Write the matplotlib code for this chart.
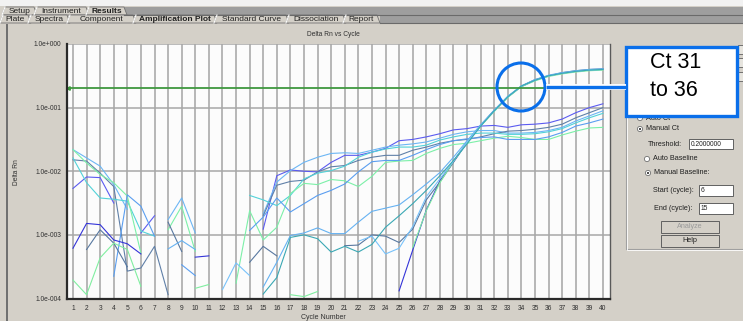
import numpy as np
import matplotlib.pyplot as plt
from matplotlib.patches import Rectangle, Circle, Polygon
from matplotlib.ticker import NullLocator

plt.rcParams['font.family'] = ['Liberation Sans', 'DejaVu Sans']

W, H = 743, 321
nan = np.nan

cycles = np.arange(1, 41)
y_ticks = [1e-4, 1e-3, 1e-2, 1e-1, 1e0]
y_tick_labels = ['1.0e-004', '1.0e-003', '1.0e-002', '1.0e-001', '1.0e+000']
threshold = 0.2

# log10(Delta Rn) per cycle 1..40, nan where the value is not plotted
log_violet = [-2.27, -2.09, -2.10, -2.50, nan, -2.97, -2.70, nan, nan, nan,
              nan, nan, nan, nan, -2.91, -2.07, -1.98, -2.00, -2.01, -1.86,
              -1.75, -1.75, -1.70, -1.64, -1.52, -1.50, -1.46, -1.41, -1.35, -1.33,
              -1.29, -1.28, -1.31, -1.27, -1.26, -1.24, -1.18, -1.08, -1.00, -0.94]
log_sky = [-1.66, -1.79, -1.92, -2.21, -2.60, nan, nan, -2.76, -2.42, -2.97,
           nan, nan, nan, nan, -2.67, -2.17, -1.99, -1.86, -1.78, -1.72,
           -1.71, -1.72, -1.67, -1.62, -1.59, -1.57, -1.54, -1.48, -1.42, -1.38,
           -1.36, -1.36, -1.40, -1.40, -1.39, -1.36, -1.31, -1.21, -1.13, -1.05]
log_steel = [-1.82, -1.84, -2.03, -2.24, -3.57, -3.52, -3.18, -3.94, nan, nan,
             nan, nan, nan, nan, -2.70, -2.22, -2.16, -2.14, -2.01, -1.93,
             -1.91, -1.83, -1.78, -1.75, -1.75, -1.67, -1.62, -1.56, -1.52, -1.50,
             -1.46, -1.41, -1.37, -1.36, -1.34, -1.31, -1.26, -1.16, -1.08, -1.00]
log_cyan = [-1.79, -2.18, -2.42, -2.44, -2.47, -2.94, -3.02, nan, nan, nan,
            nan, nan, nan, -2.38, -2.45, -2.54, -2.38, -2.12, -2.03, -1.99,
            -1.92, -1.78, -1.70, -1.65, -1.62, -1.62, -1.59, -1.51, -1.46, -1.42,
            -1.40, -1.40, -1.42, -1.42, -1.41, -1.38, -1.33, -1.24, -1.16, -1.09]
log_green = [-1.66, -1.87, -2.05, -2.18, -2.39, -3.29, nan, -2.92, -2.55, -3.26,
             nan, nan, -3.76, -2.62, -3.08, -2.88, -2.35, -2.19, -2.21, -2.13,
             -2.15, -2.24, -2.08, -1.86, -1.84, -1.83, -1.72, -1.64, -1.58, -1.56,
             -1.52, -1.48, -1.45, -1.47, -1.50, -1.50, -1.43, -1.37, -1.32, -1.31]
log_blue = [nan, nan, nan, -3.65, -2.37, -2.55, -3.02, nan, -3.47, -3.64,
            nan, nan, nan, -2.93, -2.72, -2.42, -2.64, -2.51, -2.38, -2.30,
            -2.20, -2.01, -1.85, -1.83, -1.83, -1.75, -1.66, -1.58, -1.52, -1.49,
            -1.47, -1.46, -1.50, -1.50, -1.50, -1.46, -1.39, -1.29, -1.24, -1.18]
log_darkblue = [-3.21, -2.82, -2.84, -3.08, -3.14, -3.30, nan, nan, nan, -3.35,
                -3.33, nan, nan, nan, nan, nan, nan, nan, nan, nan,
                nan, nan, nan, nan, -3.88, -3.24, -2.61, -2.15, -1.85, -1.54,
                -1.28, -1.05, -0.83, -0.67, -0.57, -0.50, -0.46, -0.43, -0.41, -0.40]
log_steel_low = [nan, -3.23, -2.92, -3.13, -3.50, nan, nan, -2.80, -3.26, nan,
                 nan, nan, nan, -3.43, -3.18, -3.33, nan, nan, nan, nan,
                 -3.17, -3.16, -3.00, -3.02, -3.12, -2.91, -2.45, -2.17, -1.86, -1.55,
                 -1.28, -1.04, -0.83, -0.66, -0.56, -0.50, -0.45, -0.42, -0.40, -0.39]
log_green_low = [-3.71, -3.94, -3.36, -3.13, -3.23, -3.81, nan, nan, nan, -3.84,
                 -3.78, nan, nan, nan, nan, nan, -3.94, -3.97, -3.89, nan,
                 nan, nan, nan, nan, nan, -3.20, -2.62, -2.18, -1.84, -1.55,
                 -1.29, -1.06, -0.84, -0.67, -0.58, -0.51, -0.47, -0.44, -0.42, -0.41]
log_sky_low = [nan, nan, nan, nan, nan, nan, nan, -3.22, -3.09, -3.23,
               nan, nan, nan, nan, -3.82, -3.43, -3.01, -2.97, -2.89, -2.98,
               -2.98, -2.80, -2.63, -2.58, -2.53, -2.37, -2.20, -2.02, -1.78, -1.52,
               -1.27, -1.04, -0.82, -0.66, -0.56, -0.49, -0.45, -0.42, -0.40, -0.39]
log_lightsky = [nan, nan, nan, nan, nan, nan, nan, nan, nan, nan,
                nan, -3.86, -3.44, -3.64, nan, nan, nan, nan, nan, nan,
                nan, -3.10, -3.02, -3.30, -3.21, -2.87, -2.40, -2.12, -1.84, -1.54,
                -1.28, -1.05, -0.83, -0.66, -0.57, -0.50, -0.46, -0.43, -0.41, -0.40]
log_cyan_low = [nan, nan, nan, nan, nan, nan, nan, nan, nan, nan,
                nan, nan, nan, nan, -3.93, -3.67, -3.04, -3.00, -3.06, -3.27,
                -3.18, -3.27, -3.15, -2.88, -2.70, -2.51, -2.30, -2.07, -1.83, -1.57,
                -1.29, -1.05, -0.83, -0.66, -0.57, -0.50, -0.46, -0.43, -0.41, -0.40]

series = [
    (log_violet, '#5b5bf0'), (log_sky, '#6cb6f4'), (log_steel, '#6080a8'),
    (log_cyan, '#52d2d8'), (log_green, '#7cf0a8'), (log_blue, '#5a9ef0'),
    (log_darkblue, '#3434d8'), (log_steel_low, '#5878a0'), (log_green_low, '#80eea0'),
    (log_sky_low, '#66b2f2'), (log_lightsky, '#78c2fa'), (log_cyan_low, '#3aa8b4'),
]

BG = '#d4d0c8'
fig = plt.figure(figsize=(W / 100, H / 100), dpi=100, facecolor=BG)

# ---- window chrome (pixel coordinates) ----
ui = fig.add_axes([0, 0, 1, 1])
ui.set_zorder(-1)
ui.set_xlim(0, W)
ui.set_ylim(H, 0)
ui.axis('off')

ui.add_patch(Rectangle((0, 0), W, 6, fc='#f2f2f2', ec='none'))
ui.add_patch(Rectangle((124, 7), W - 124, 8, fc='#9e9e9e', ec='none'))
ui.add_patch(Rectangle((380, 15), W - 380, 8, fc='#9e9e9e', ec='none'))
ui.plot([124, W], [15, 15], color='#6a6a6a', lw=0.8)
ui.plot([380, W], [23, 23], color='#6a6a6a', lw=0.8)


def tab(x0, x1, y0, y1, label, bold=False):
    ui.add_patch(Polygon([(x0, y1), (x0 + 3, y0), (x1, y0), (x1 + 3, y1)],
                         closed=True, fc=BG, ec='#707070', lw=0.6))
    ui.plot([x0, x0 + 3], [y1, y0], color='white', lw=0.8)
    ui.text((x0 + x1) / 2 + 1.5, (y0 + y1) / 2 + 0.3, label, fontsize=6,
            fontweight='bold' if bold else 'normal', ha='center', va='center',
            color='#202020')


tab(2, 34, 7, 15, 'Setup')
tab(34, 86, 7, 15, 'Instrument')
tab(86, 124, 7, 15, 'Results', True)
tab(0, 28, 15, 23, 'Plate')
tab(28, 67, 15, 23, 'Spectra')
tab(67, 133, 15, 23, 'Component')
tab(133, 214, 15, 23, 'Amplification Plot', True)
tab(214, 286, 15, 23, 'Standard Curve')
tab(286, 343, 15, 23, 'Dissociation')
tab(343, 377, 15, 23, 'Report')

ui.plot([7, 7], [25, H], color='#6e6e6e', lw=1.4)
ui.text(333, 35, 'Delta Rn vs Cycle', fontsize=4.8, ha='center', va='center',
        color='#303030')
ui.text(16, 172, 'Delta Rn', fontsize=4.8, rotation=90, ha='center',
        va='center', color='#303030')
ui.text(323, 317.5, 'Cycle Number', fontsize=5, ha='center', va='center',
        color='#303030')

# right-hand options panel
ui.plot([626, 626, W], [112, 249, 249], color='#a0a0a0', lw=0.8)
ui.plot([627, 627, W], [112, 250, 250], color='white', lw=0.6)
for yb in (45, 58, 72):
    ui.add_patch(Rectangle((738, yb), 8, 9, fc='#e6e4de', ec='#606060', lw=0.6))


def radio(x, y, label, checked):
    ui.add_patch(Circle((x, y), 2.6, fc='white', ec='#707070', lw=0.6))
    if checked:
        ui.add_patch(Circle((x, y), 1.0, fc='#202020', ec='none'))
    ui.text(x + 6, y, label, fontsize=5.2, ha='left', va='center', color='#202020')


def field(x0, x1, y0, y1, value):
    ui.add_patch(Rectangle((x0, y0), x1 - x0, y1 - y0, fc='white',
                           ec='#606060', lw=0.7))
    ui.text(x0 + 2, (y0 + y1) / 2, value, fontsize=4.8, ha='left',
            va='center', color='#202020')


def button(x0, x1, y0, y1, label, enabled=True):
    ui.add_patch(Rectangle((x0, y0), x1 - x0, y1 - y0, fc=BG,
                           ec='#606060', lw=0.7))
    ui.text((x0 + x1) / 2, (y0 + y1) / 2, label, fontsize=5.2, ha='center',
            va='center', color='#202020' if enabled else '#9a9a9a')


radio(640, 118, 'Auto Ct', False)
radio(640, 129, 'Manual Ct', True)
ui.text(648, 144, 'Threshold:', fontsize=5.2, ha='left', va='center', color='#202020')
field(689, 733, 139, 149, '0.2000000')
radio(647, 159, 'Auto Baseline', False)
radio(648, 173, 'Manual Baseline:', True)
ui.text(653, 190, 'Start (cycle):', fontsize=5.2, ha='left', va='center', color='#202020')
field(699, 733, 185, 196, '6')
ui.text(654, 208, 'End (cycle):', fontsize=5.2, ha='left', va='center', color='#202020')
field(699, 733, 203, 214, '15')
button(661, 719, 221, 233, 'Analyze', enabled=False)
button(661, 719, 235, 247, 'Help')

# ---- amplification plot ----
ax = fig.add_axes([67 / W, 1 - 298.5 / H, (610 - 67) / W, (298.5 - 44) / H])
ax.set_zorder(1)
ax.set_facecolor('#fcfcfc')
ax.set_yscale('log')
ax.set_ylim(1e-4, 1e0)
ax.set_xlim(0.56, 40.52)
ax.set_xticks(cycles)
ax.set_xticklabels([str(c) for c in cycles])
ax.set_yticks(y_ticks)
ax.set_yticklabels(y_tick_labels)
ax.yaxis.set_minor_locator(NullLocator())
ax.grid(axis='x', color='#a4a4a4', lw=1.1)
ax.grid(axis='y', color='#a8a8a8', lw=1.1)
ax.set_axisbelow(True)
ax.tick_params(length=0, labelsize=4.8, colors='#303030')
ax.tick_params(axis='x', pad=5)
ax.tick_params(axis='y', pad=4)
ax.spines['top'].set_visible(False)
ax.spines['right'].set_color('#5a5a5a')
ax.spines['right'].set_linewidth(1.0)
for s in ('left', 'bottom'):
    ax.spines[s].set_color('#2a2a2a')
    ax.spines[s].set_linewidth(1.6)

for vals, col in series:
    ax.plot(cycles, 10 ** np.array(vals, dtype=float), color=col, lw=0.8)

ax.axhline(threshold, color='#3f983f', lw=1.3)
ax.plot(0.62, threshold, marker='<', ms=2.5, color='#3f983f')

# ---- callout overlay ----
ov = fig.add_axes([0, 0, 1, 1])
ov.set_zorder(2)
ov.set_xlim(0, W)
ov.set_ylim(H, 0)
ov.axis('off')
ov.patch.set_alpha(0)
BLUE = '#0a6fea'
ov.plot([546, 626], [86.5, 86.5], color='white', lw=4.2, solid_capstyle='butt')
ov.plot([546, 626], [86.5, 86.5], color=BLUE, lw=2.4, solid_capstyle='butt')
ov.add_patch(Circle((521, 87), 24, fc='none', ec=BLUE, lw=2.2))
ov.add_patch(Rectangle((626, 46.5), 111, 69, fc='white', ec=BLUE, lw=2.4))
ov.text(650, 62, 'Ct 31', fontsize=15.5, ha='left', va='center', color='black')
ov.text(650, 90, 'to 36', fontsize=15.5, ha='left', va='center', color='black')

fig.savefig('out.png', dpi=100, facecolor=BG)
